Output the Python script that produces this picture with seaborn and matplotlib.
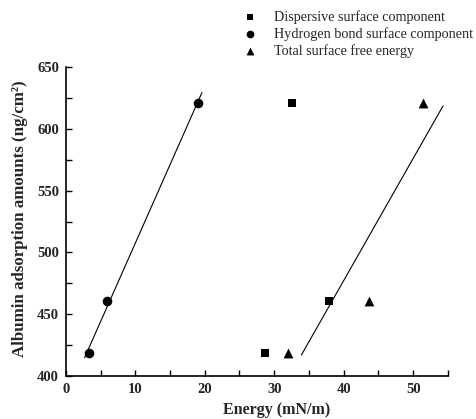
import numpy as np
import pandas as pd
import matplotlib
matplotlib.use("Agg")
import matplotlib.pyplot as plt
from matplotlib.ticker import MultipleLocator
import seaborn as sns

series_names = ["Dispersive surface component",
                "Hydrogen bond surface component",
                "Total surface free energy"]
albumin = [419, 461, 621]
dispersive = [28.7, 37.9, 32.5]
hydrogen = [3.4, 5.9, 19.0]
total = [32.0, 43.6, 51.4]

df = pd.DataFrame({
    "energy": dispersive + hydrogen + total,
    "albumin": albumin * 3,
    "series": [series_names[0]] * 3 + [series_names[1]] * 3 + [series_names[2]] * 3,
})

sns.set_style("ticks")
plt.rcParams["font.family"] = ["Liberation Serif", "DejaVu Serif"]

fig = plt.figure(figsize=(4.77, 4.19), dpi=100)
ax = fig.add_axes([0.138, 0.1026, 0.801, 0.737])

markers = {series_names[0]: "s", series_names[1]: "o", series_names[2]: "^"}
sizes_map = {series_names[0]: 36, series_names[1]: 48, series_names[2]: 50}
for name in series_names:
    sub = df[df["series"] == name]
    sns.scatterplot(data=sub, x="energy", y="albumin", marker=markers[name],
                    color="black", s=sizes_map[name], edgecolor="black",
                    linewidth=0, ax=ax, label=name, legend=False)

# regression lines for hydrogen bond and total components
for xs, x0, x1 in [(hydrogen, 2.7, 19.6), (total, 33.9, 54.3)]:
    k, b = np.polyfit(xs, albumin, 1)
    xx = np.array([x0, x1])
    ax.plot(xx, k * xx + b, color="black", lw=0.8)

ax.set_xlim(0, 55)
ax.set_ylim(400, 650)
ax.xaxis.set_major_locator(MultipleLocator(10))
ax.xaxis.set_minor_locator(MultipleLocator(5))
ax.yaxis.set_major_locator(MultipleLocator(50))
ax.yaxis.set_minor_locator(MultipleLocator(25))
ax.tick_params(which="both", direction="in", length=4, width=1, color="black")
ax.tick_params(which="major", labelsize=10.5, pad=5)
for lab in ax.get_xticklabels() + ax.get_yticklabels():
    lab.set_fontweight("bold")
for s in ["top", "right"]:
    ax.spines[s].set_visible(False)
for s in ["left", "bottom"]:
    ax.spines[s].set_color("black")
    ax.spines[s].set_linewidth(1.2)

ax.set_xlabel("Energy (mN/m)", fontsize=11.5, fontweight="bold")
ax.set_ylabel("Albumin adsorption amounts (ng/cm²)", fontsize=12.2,
              fontweight="bold")
ax.xaxis.set_label_coords(0.552, -0.085)
ax.yaxis.set_label_coords(-0.10, 0.51)

handles, labels = ax.get_legend_handles_labels()
fig.legend(handles, labels, loc="upper left", bbox_to_anchor=(0.48, 1.006),
           frameon=False, fontsize=10.2, handletextpad=1.1, labelspacing=0.22,
           markerscale=0.8, handlelength=1.2)

fig.savefig("out.png", dpi=100)
